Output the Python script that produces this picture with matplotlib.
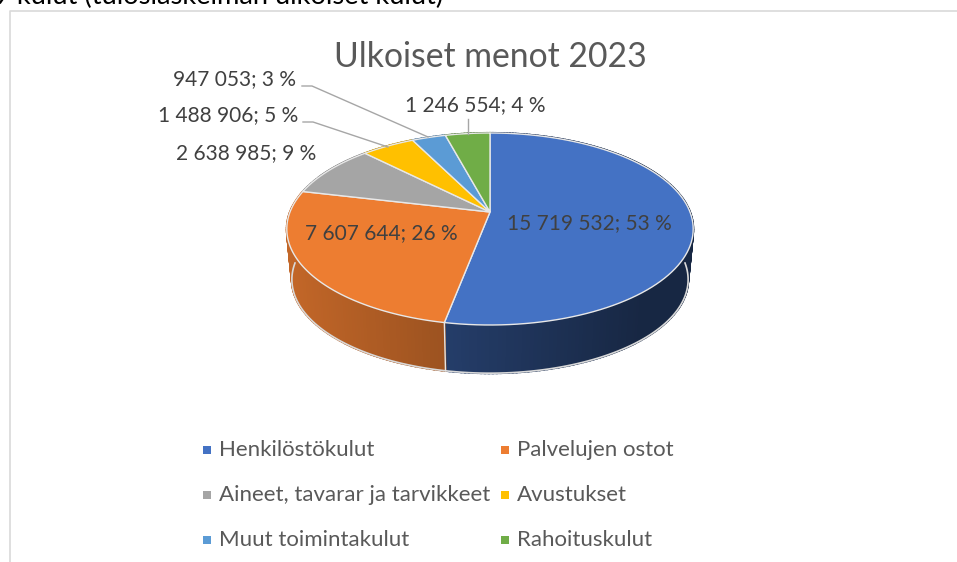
import numpy as np
import matplotlib
matplotlib.use("Agg")
import matplotlib.pyplot as plt
from matplotlib.patches import Polygon, Rectangle
from matplotlib.colors import to_rgb

plt.rcParams["font.family"] = ["Lato", "DejaVu Sans"]

title = "Ulkoiset menot 2023"
header = "9 kulut (tuloslaskelman ulkoiset kulut)"
categories = ["Henkilöstökulut", "Palvelujen ostot", "Aineet, tavarar ja tarvikkeet",
              "Avustukset", "Muut toimintakulut", "Rahoituskulut"]
values = [15719532, 7607644, 2638985, 1488906, 947053, 1246554]
colors = ["#4472C4", "#ED7D31", "#A5A5A5", "#FFC000", "#5B9BD5", "#70AD47"]

W, H = 957, 562

# perspective disc, pixel space
CX, CY = 490, 212
A, B, K = 200, 93, 0.177
BASE_Y, BASE_SCALE = 263, 0.975


def project(theta, r=1.0, scale=1.0, y0=CY):
    # theta clockwise from 12 o'clock
    u = r * np.sin(theta)
    v = r * np.cos(theta)
    w = 1 + K * v
    return CX + scale * A * u / w, y0 - scale * B * v / w


def shade(color, f):
    return tuple(c * f for c in to_rgb(color))


fig = plt.figure(figsize=(W / 100, H / 100), dpi=100)
ax = fig.add_axes([0, 0, 1, 1])
ax.set_xlim(0, W)
ax.set_ylim(H, 0)
ax.axis("off")

# frame of the chart
ax.plot([10, 10, W], [H, 11, 11], color="#D9D9D9", lw=1.2)
ax.text(443, 4, header, ha="right", va="baseline", fontsize=19.6, color="black")

total = sum(values)
edges = np.cumsum([0] + values) / total * 2 * np.pi

# side wall
for i, col in enumerate(colors):
    th = np.linspace(edges[i], edges[i + 1], max(int((edges[i + 1] - edges[i]) * 60), 2))
    for t0, t1 in zip(th[:-1], th[1:]):
        xt0, yt0 = project(t0)
        xt1, yt1 = project(t1)
        xb0, yb0 = project(t0, scale=BASE_SCALE, y0=BASE_Y)
        xb1, yb1 = project(t1, scale=BASE_SCALE, y0=BASE_Y)
        if i == 0:
            f = 0.54 - 0.20 * (xt0 - 445) / 200
            f = max(f, 0.34)
        else:
            f = 0.82 - 0.16 * (xt0 - 288) / 157
        ax.add_patch(Polygon([(xt0, yt0), (xt1, yt1), (xb1, yb1), (xb0, yb0)],
                             fc=shade(col, f), ec=shade(col, f), lw=1.5, zorder=2))

th = np.linspace(np.pi / 2, 3 * np.pi / 2, 120)
xb, yb = project(th, scale=BASE_SCALE, y0=BASE_Y)
ax.plot(xb, yb, color="#D9D9D9", lw=1.2, zorder=3)
x0, y0 = project(edges[1])
x1, y1 = project(edges[1], scale=BASE_SCALE, y0=BASE_Y)
ax.plot([x0, x1], [y0, y1], color="#E4E4E4", lw=1, zorder=3)

# top surface
for i, col in enumerate(colors):
    th = np.linspace(edges[i], edges[i + 1], 100)
    xs, ys = project(th)
    pts = [(CX, CY)] + list(zip(xs, ys))
    ax.add_patch(Polygon(pts, closed=True, fc=col, ec="#E8E8E8", lw=1.0, zorder=4))


# data labels
def label(i):
    v = f"{values[i]:,}".replace(",", " ")
    return f"{v}; {values[i] / total * 100:.0f} %"


label_pos = [(589, 223, "center"), (381, 233, "center"), (316, 153, "right"),
             (298, 115, "right"), (296, 79, "right"), (475, 105, "center")]
for i, (x, y, ha) in enumerate(label_pos):
    ax.text(x, y, label(i), ha=ha, va="center", fontsize=15, color="#404040", zorder=6)

# leader lines
ax.plot([302, 312, 428], [86, 86, 137], color="#A6A6A6", lw=1, zorder=5)
ax.plot([303, 313, 388], [122, 122, 147], color="#A6A6A6", lw=1, zorder=5)
ax.plot([468, 468], [119, 134], color="#A6A6A6", lw=1, zorder=5)

ax.text(490, 57, title, ha="center", va="center", fontsize=24.3, color="#595959", zorder=6)

# legend
rows_y = [450, 495, 540]
cols_x = [203, 501]
for i, cat in enumerate(categories):
    x = cols_x[i % 2]
    y = rows_y[i // 2]
    ax.add_patch(Rectangle((x, y - 4), 8, 8, fc=colors[i], ec="none"))
    ax.text(x + 16, y, cat, ha="left", va="center", fontsize=16, color="#595959")

fig.savefig("out.png", dpi=100)
